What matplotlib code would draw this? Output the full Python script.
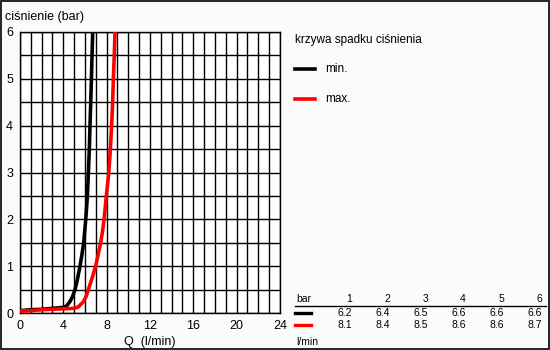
import matplotlib
matplotlib.use("Agg")
import matplotlib.pyplot as plt
from matplotlib.patches import Rectangle

plt.rcParams['font.family'] = ['Liberation Sans', 'DejaVu Sans']

# data
min_q = [0, 1, 2, 3, 4, 4.3, 4.6, 4.85, 5.08, 5.3, 5.54, 5.72, 5.88, 6.07, 6.22, 6.31, 6.4, 6.46, 6.53, 6.59, 6.65, 6.71]
min_p = [0.05, 0.07, 0.08, 0.1, 0.12, 0.15, 0.24, 0.35, 0.5, 0.72, 1.0, 1.25, 1.5, 2.0, 2.5, 3.0, 3.5, 4.0, 4.5, 5.0, 5.5, 6.0]
max_q = [0, 1, 2, 3, 4, 5, 5.38, 5.85, 6.1, 6.31, 6.65, 6.98, 7.22, 7.45, 7.62, 7.76, 7.97, 8.2, 8.34, 8.46, 8.55, 8.62, 8.7, 8.77]
max_p = [0.04, 0.05, 0.07, 0.08, 0.09, 0.1, 0.13, 0.24, 0.35, 0.5, 0.74, 1.0, 1.25, 1.5, 1.75, 2.0, 2.5, 3.0, 3.5, 4.0, 4.5, 5.0, 5.5, 6.0]

x_ticks = [0, 4, 8, 12, 16, 20, 24]
y_ticks = [0, 1, 2, 3, 4, 5, 6]

legend_title = "krzywa spadku ciśnienia"
legend_labels = ["min.", "max."]
colors = ["#000000", "#ff0000"]

table_bar = ["1", "2", "3", "4", "5", "6"]
table_min = ["6.2", "6.4", "6.5", "6.6", "6.6", "6.6"]
table_max = ["8.1", "8.4", "8.5", "8.6", "8.6", "8.7"]

W, H = 550, 350
fig = plt.figure(figsize=(5.5, 3.5), dpi=100)
fig.patch.set_facecolor("#fbfbfb")

def fx(px):
    return px / W

def fy(py):
    return 1 - py / H

ax = fig.add_axes([fx(20), fy(313), fx(280) - fx(20), fy(32) - fy(313)])
ax.set_facecolor("white")
ax.set_xlim(0, 24)
ax.set_ylim(0, 6)
for q in range(0, 25):
    ax.axvline(q, color="black", lw=1.0, zorder=1)
for k in range(0, 13):
    ax.axhline(k * 0.5, color="black", lw=1.0, zorder=1)
ax.plot(min_q, min_p, color=colors[0], lw=2.6, zorder=3, solid_capstyle="butt", solid_joinstyle="round")
ax.plot(max_q, max_p, color=colors[1], lw=2.6, zorder=3, solid_capstyle="butt", solid_joinstyle="round")
ax.set_xticks(x_ticks)
ax.set_yticks(y_ticks)
ax.tick_params(length=0, labelsize=9, pad=5)
for s in ax.spines.values():
    s.set_linewidth(1.0)
ax.set_xlabel("Q  (l/min)", fontsize=9, labelpad=3)

fig.text(fx(5), fy(17), "ciśnienie (bar)", fontsize=9, va="center", ha="left")

# legend
fig.text(fx(295), fy(40), legend_title, fontsize=8.5, va="center", ha="left")
for i, (lab, c) in enumerate(zip(legend_labels, colors)):
    yy = fy(69 + 30 * i)
    fig.add_artist(plt.Line2D([fx(295), fx(315)], [yy, yy], color=c, lw=2.6, transform=fig.transFigure))
    fig.text(fx(325), yy, lab, fontsize=8.5, va="center", ha="left")

# table
col_x = [352, 390, 428, 466, 504, 542]
fig.text(fx(296), fy(299), "bar", fontsize=7.5, va="center", ha="left")
for cx, v in zip(col_x, table_bar):
    fig.text(fx(cx), fy(299), v, fontsize=7.5, va="center", ha="right")
fig.add_artist(plt.Line2D([fx(295), fx(546)], [fy(306), fy(306)], color="black", lw=1.0, transform=fig.transFigure))
for row, (vals, c) in enumerate([(table_min, colors[0]), (table_max, colors[1])]):
    yy = fy(313 + 12 * row)
    fig.add_artist(plt.Line2D([fx(295), fx(311)], [yy, yy], color=c, lw=2.4, transform=fig.transFigure))
    for cx, v in zip(col_x, vals):
        fig.text(fx(cx), yy, v, fontsize=7.5, va="center", ha="right")
fig.text(fx(296), fy(342), "l/min", fontsize=7.5, va="center", ha="left")

# frame
fig.add_artist(Rectangle((0.001, 0.002), 0.997, 0.996, fill=False, edgecolor="black", lw=1.2, transform=fig.transFigure))

fig.savefig("out.png", dpi=100, facecolor=fig.get_facecolor())
